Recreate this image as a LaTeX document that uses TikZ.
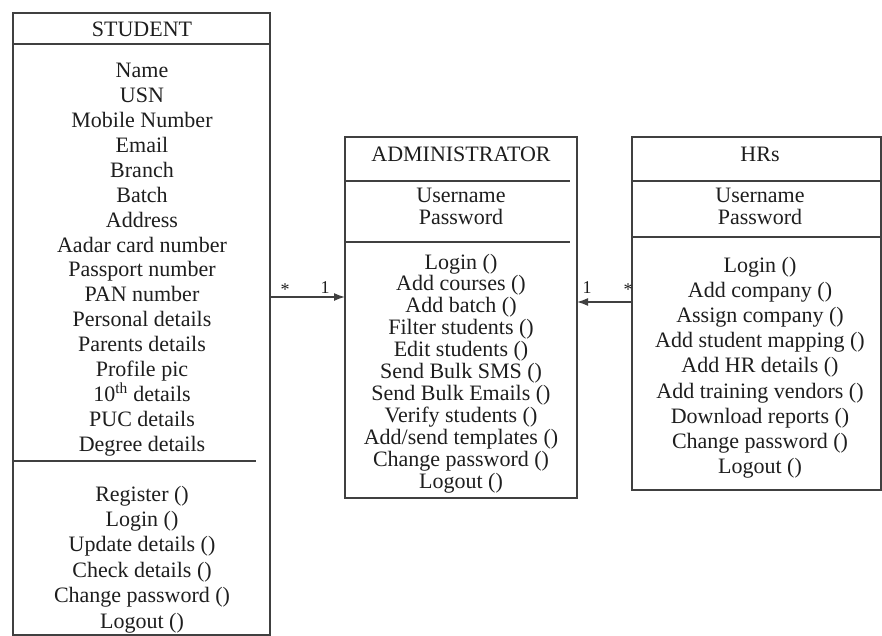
\documentclass[tikz,border=0pt]{standalone}
\usepackage{fontspec}
\setmainfont{Liberation Serif}
\usetikzlibrary{arrows.meta}
\definecolor{txtc}{HTML}{1E1E1E}
\definecolor{linec}{HTML}{404040}
\tikzset{
  classbox/.style={draw=linec, line width=1.5pt, fill=none, inner sep=0pt, outer sep=0pt},
  divider/.style={draw=linec, line width=1.5pt},
  txt/.style={font=\fontsize{22}{25}\selectfont, text=txtc, inner sep=0pt, anchor=base},
  mult/.style={font=\fontsize{18}{20}\selectfont, text=txtc, inner sep=0pt, anchor=base},
  assoc/.style={draw=linec, line width=1.5pt, -{Latex[length=11pt,width=8pt]}}
}
\begin{document}
\begin{tikzpicture}[x=1pt,y=-1pt]
\useasboundingbox[fill=white] (0,0) rectangle (882,636);
% boxes
\node[classbox, anchor=north west, minimum width=257, minimum height=622] (student) at (13,13) {};
\node[classbox, anchor=north west, minimum width=232, minimum height=361] (admin) at (345,137) {};
\node[classbox, anchor=north west, minimum width=249, minimum height=353] (hr) at (632,137) {};
% dividers
\draw[divider] (13,44) -- (270,44);
\draw[divider] (13,461) -- (256,461);
\draw[divider] (345,181) -- (570,181);
\draw[divider] (345,242) -- (570,242);
\draw[divider] (632,181) -- (881,181);
\draw[divider] (632,237) -- (881,237);
% titles
\node[txt] (stitle) at (142,37) {STUDENT};
\node[txt] (atitle) at (461,162) {ADMINISTRATOR};
\node[txt] (htitle) at (760,162) {HRs};
% student attributes
\foreach \t [count=\i from 0] in {Name,USN,Mobile Number,Email,Branch,Batch,Address,Aadar card number,Passport number,PAN number,Personal details,Parents details,Profile pic,10\textsuperscript{th} details,PUC details,Degree details}
  \node[txt] (sa\i) at (142,78+24.87*\i) {\t};
% student methods
\foreach \t [count=\i from 0] in {Register (),Login (),Update details (),Check details (),Change password (),Logout ()}
  \node[txt] (sm\i) at (142,501+25.4*\i) {\t};
% admin attributes
\foreach \t [count=\i from 0] in {Username,Password}
  \node[txt] (aa\i) at (461,203+21.5*\i) {\t};
% admin methods
\foreach \t [count=\i from 0] in {Login (),Add courses (),Add batch (),Filter students (),Edit students (),Send Bulk SMS (),Send Bulk Emails (),Verify students (),Add/send templates (),Change password (),Logout ()}
  \node[txt] (am\i) at (461,269+21.9*\i) {\t};
% hr attributes
\foreach \t [count=\i from 0] in {Username,Password}
  \node[txt] (ha\i) at (760,203+21.5*\i) {\t};
% hr methods
\foreach \t [count=\i from 0] in {Login (),Add company (),Assign company (),Add student mapping (),Add HR details (),Add training vendors (),Download reports (),Change password (),Logout ()}
  \node[txt] (hm\i) at (760,272+25.2*\i) {\t};
% connectors
\coordinate (y1) at (0,297);
\coordinate (y2) at (0,302);
\draw[assoc] (student.east |- y1) -- (admin.west |- y1);
\draw[assoc] (hr.west |- y2) -- (admin.east |- y2);
\node[mult] (m1) at (285,295) {*};
\node[mult] (m2) at (325,293) {1};
\node[mult] (m3) at (587,293) {1};
\node[mult] (m4) at (628,295) {*};
\end{tikzpicture}
\end{document}
